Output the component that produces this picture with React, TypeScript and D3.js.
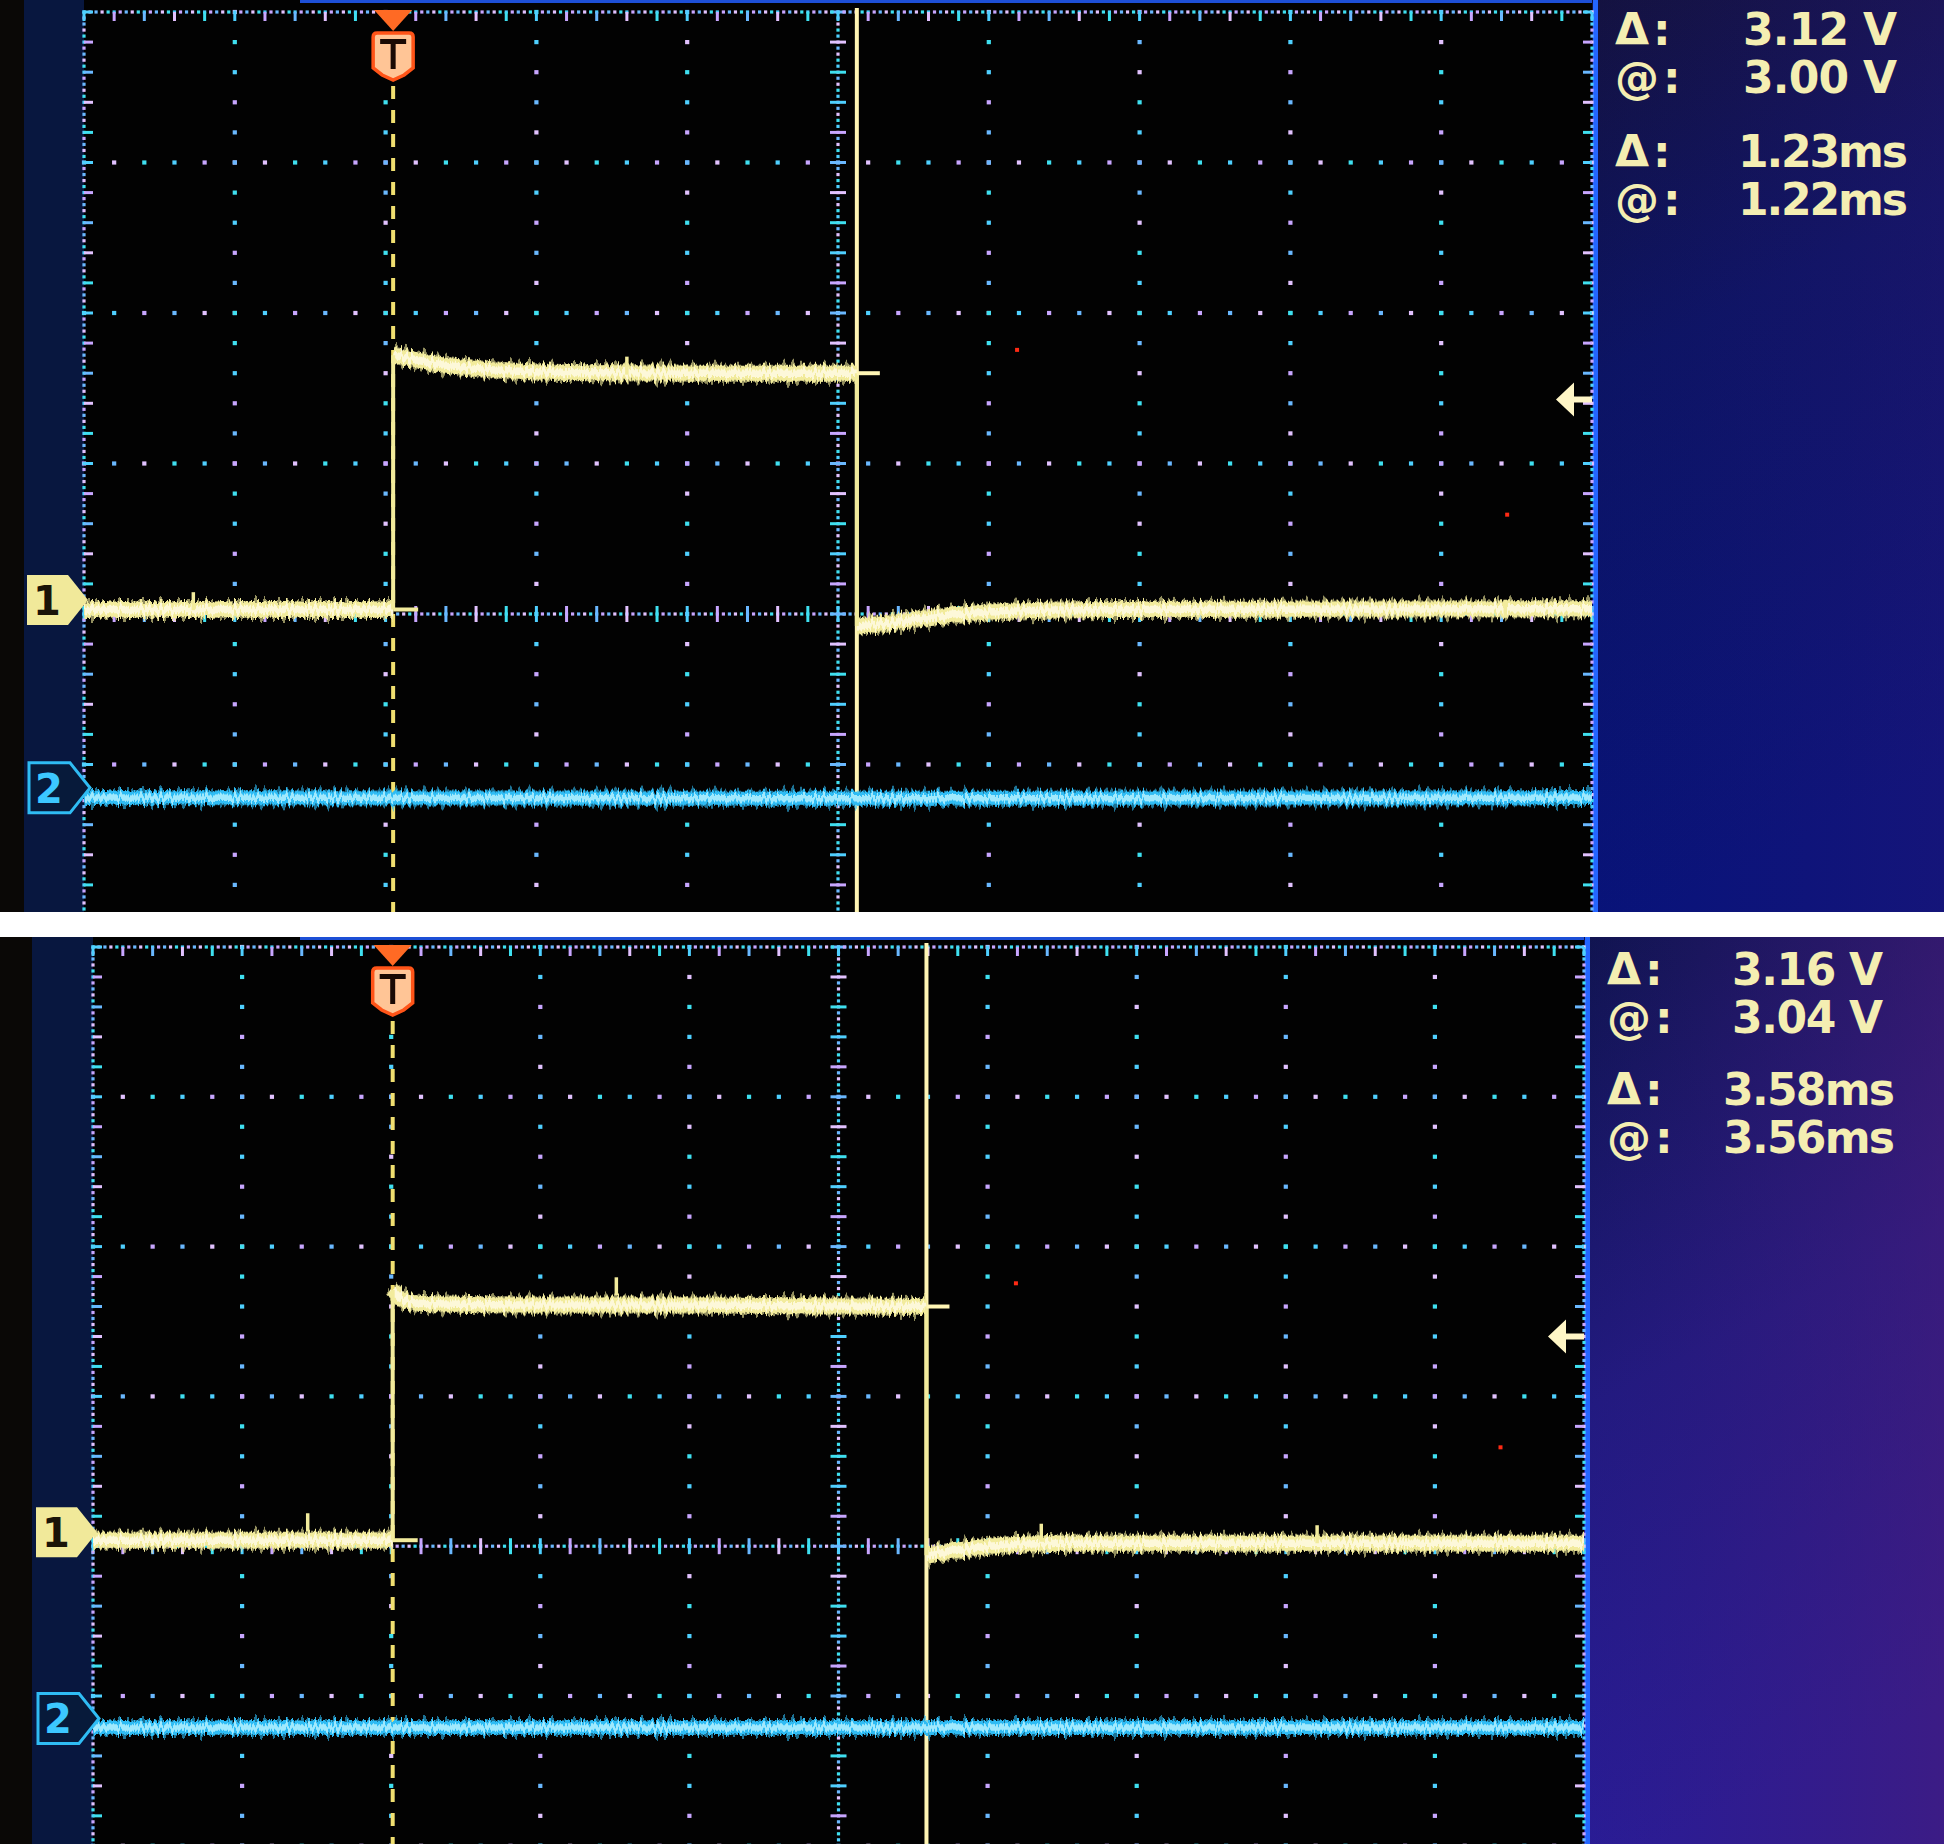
import { useEffect, useRef } from 'react'
import * as d3 from 'd3'

type Pt = [number, number]

const W = 1944
const H = 1844

// cursor readouts on the right of each screen
const readoutLabels = ['Δ:', '@:', 'Δ:', '@:']
const topReadings = ['3.12 V', '3.00 V', '1.23ms', '1.22ms']
const botReadings = ['3.16 V', '3.04 V', '3.58ms', '3.56ms']

// scope settings (top, bottom)
const msPerDiv = [0.4, 1.0]
const screenStart = [-0.82, -2.01] // ms at the left graticule edge
const voltsPerDiv = 2
const cursorAt = [1.23, 3.58] // ms
const triggerLevel = [2.85, 2.8] // V
const ch2Position = [-2.31, -2.3] // V, ch2 ground below ch1 ground

// channel 1 traces, [ms, V]
const topCh1: Pt[] = [
  [-0.82, 0.06], [0, 0.06], [0, 3.44], [0.04, 3.4], [0.12, 3.32], [0.25, 3.25],
  [0.45, 3.21], [0.8, 3.2], [1.23, 3.2], [1.23, -0.16], [1.3, -0.13],
  [1.4, -0.06], [1.6, 0.03], [1.9, 0.06], [3.18, 0.07],
]
const botCh1: Pt[] = [
  [-2.01, 0.08], [0, 0.08], [0, 3.42], [0.06, 3.3], [0.2, 3.24], [1.0, 3.22],
  [2.0, 3.22], [3.58, 3.2], [3.58, -0.12], [3.7, -0.08], [4.0, 0.0],
  [4.5, 0.04], [7.99, 0.04],
]
// channel 2 traces, [ms, V]
const topCh2: Pt[] = [[-0.82, -0.13], [1.0, -0.14], [3.18, -0.13]]
const botCh2: Pt[] = [[-2.01, -0.12], [3.0, -0.12], [7.99, -0.12]]

// the taller noise spikes on channel 1, [ms, peak V]
const topSpikes: Pt[] = [[-0.53, 0.29], [0.62, 3.42], [2.95, 0.19]]
const botSpikes: Pt[] = [[-0.57, 0.44], [1.5, 3.59], [4.35, 0.3], [6.2, 0.28]]

// red dead pixels, [ms, V]
const topDeadPx: Pt[] = [[1.655, 3.51], [2.955, 1.32]]
const botDeadPx: Pt[] = [[4.18, 3.51], [7.43, 1.32]]

const panels = [
  {
    y0: 0, y1: 912, gx0: 84, gx1: 1592, gTop: 12, dy: 150.5, bezel: 24,
    labelX: 1615, rows: [45, 93, 167, 215], valX: [1743, 1743, 1738, 1738], valW: [154, 154, 170, 170],
    ch1: topCh1, ch2: topCh2, spikes: topSpikes, dead: topDeadPx, readings: topReadings,
    side: 'url(#sideTop)', purple: 0.35,
  },
  {
    y0: 937, y1: 1844, gx0: 93, gx1: 1584, gTop: 947, dy: 149.8, bezel: 32,
    labelX: 1607, rows: [985, 1033, 1105, 1153], valX: [1732, 1732, 1723, 1723], valW: [151, 151, 172, 172],
    ch1: botCh1, ch2: botCh2, spikes: botSpikes, dead: botDeadPx, readings: botReadings,
    side: 'url(#sideBot)', purple: 1,
  },
]

const dotColors = ['#4fd0ff', '#c8a6ff', '#6ab8ff', '#e2c2ff', '#3fe0f0']
const YEL = '#f2eb9c'
const YEL_CORE = '#fffbe4'
const CYAN = '#2fbcf4'
const CYAN_CORE = '#b4f2ff'

function splitAtJumps(pts: Pt[]) {
  const segs: Pt[][] = [[pts[0]]]
  const jumps: [Pt, Pt][] = []
  for (let i = 1; i < pts.length; i++) {
    if (pts[i][0] === pts[i - 1][0]) {
      jumps.push([pts[i - 1], pts[i]])
      segs.push([pts[i]])
    } else {
      segs[segs.length - 1].push(pts[i])
    }
  }
  return { segs, jumps }
}

export default function App() {
  const ref = useRef<SVGSVGElement>(null)

  useEffect(() => {
    if (!ref.current) return
    const svg = d3.select(ref.current)
    svg.selectAll('*').remove()

    const defs = svg.append('defs')

    // jitter filters give the traces their noisy edges
    const jitters = [
      { id: 'jA', seed: 2, f: 0.22, s: 22 },
      { id: 'jB', seed: 7, f: 0.35, s: 16 },
      { id: 'jC', seed: 13, f: 0.55, s: 12 },
    ]
    jitters.forEach(j => {
      const f = defs.append('filter').attr('id', j.id)
        .attr('filterUnits', 'userSpaceOnUse')
        .attr('x', 0).attr('y', 0).attr('width', W).attr('height', H)
        .attr('color-interpolation-filters', 'sRGB')
      f.append('feTurbulence').attr('type', 'fractalNoise')
        .attr('baseFrequency', `${j.f} 0`).attr('numOctaves', 2).attr('seed', j.seed).attr('result', 'n')
      f.append('feColorMatrix').attr('in', 'n').attr('type', 'matrix')
        .attr('values', '0 0 0 0 0.5  0 1 0 0 0  0 0 0 0 0  0 0 0 0 1').attr('result', 'm')
      f.append('feDisplacementMap').attr('in', 'SourceGraphic').attr('in2', 'm')
        .attr('scale', j.s).attr('xChannelSelector', 'R').attr('yChannelSelector', 'G')
    })

    // side panel gradients
    const gTopSide = defs.append('linearGradient').attr('id', 'sideTop')
      .attr('x1', 0).attr('y1', 0).attr('x2', 0.2).attr('y2', 1)
    gTopSide.append('stop').attr('offset', 0).attr('stop-color', '#141240')
    gTopSide.append('stop').attr('offset', 0.4).attr('stop-color', '#0c1464')
    gTopSide.append('stop').attr('offset', 1).attr('stop-color', '#08137a')
    const gBotSide = defs.append('linearGradient').attr('id', 'sideBot')
      .attr('x1', 0).attr('y1', 0).attr('x2', 0.2).attr('y2', 1)
    gBotSide.append('stop').attr('offset', 0).attr('stop-color', '#101450')
    gBotSide.append('stop').attr('offset', 0.5).attr('stop-color', '#221a80')
    gBotSide.append('stop').attr('offset', 1).attr('stop-color', '#2a1c96')
    const gPurple = defs.append('linearGradient').attr('id', 'sidePurple')
      .attr('x1', 0).attr('y1', 0).attr('x2', 1).attr('y2', 0)
    gPurple.append('stop').attr('offset', 0).attr('stop-color', '#3a1a7a').attr('stop-opacity', 0)
    gPurple.append('stop').attr('offset', 1).attr('stop-color', '#4a1c78').attr('stop-opacity', 0.55)

    svg.append('rect').attr('width', W).attr('height', H).attr('fill', '#ffffff')

    panels.forEach((p, pi) => {
      const clipId = `clip${pi}`
      defs.append('clipPath').attr('id', clipId)
        .append('rect').attr('x', 0).attr('y', p.y0).attr('width', W).attr('height', p.y1 - p.y0)
      const g = svg.append('g').attr('clip-path', `url(#${clipId})`)
      const ph = p.y1 - p.y0

      // bezel, screen, side panel
      g.append('rect').attr('x', 0).attr('y', p.y0).attr('width', p.gx0).attr('height', ph).attr('fill', '#0a0806')
      g.append('rect').attr('x', p.bezel).attr('y', p.y0).attr('width', p.gx0 - p.bezel).attr('height', ph).attr('fill', '#08173f')
      g.append('rect').attr('x', p.gx0).attr('y', p.y0).attr('width', p.gx1 - p.gx0).attr('height', ph).attr('fill', '#020202')
      g.append('rect').attr('x', p.gx1).attr('y', p.y0).attr('width', W - p.gx1).attr('height', ph)
        .attr('fill', p.side)
      g.append('rect').attr('x', p.gx1).attr('y', p.y0).attr('width', W - p.gx1).attr('height', ph)
        .attr('fill', 'url(#sidePurple)').attr('opacity', p.purple)
      g.append('rect').attr('x', p.gx1 + 1).attr('y', p.y0).attr('width', 5).attr('height', ph).attr('fill', '#2466ff')
      g.append('rect').attr('x', 300).attr('y', p.y0).attr('width', p.gx1 - 300).attr('height', 3).attr('fill', '#1d4fd6')

      // scales
      const xd = d3.scaleLinear().domain([0, 10]).range([p.gx0, p.gx1])
      const yd = d3.scaleLinear().domain([0, 8]).range([p.gTop, p.gTop + 8 * p.dy])
      const t0 = screenStart[pi]
      const x = d3.scaleLinear().domain([t0, t0 + 10 * msPerDiv[pi]]).range([p.gx0, p.gx1])
      const y = d3.scaleLinear().domain([-4 * voltsPerDiv, 4 * voltsPerDiv]).range([p.gTop + 8 * p.dy, p.gTop])
      const y2 = (v: number) => y(v + ch2Position[pi])

      // graticule
      const grid = g.append('g')
      const dot = (cx: number, cy: number, i: number, s = 4.2) =>
        grid.append('rect').attr('x', cx - s / 2).attr('y', cy - s / 2).attr('width', s).attr('height', s)
          .attr('fill', dotColors[i % dotColors.length])
      const minorX = d3.range(0, 10.0001, 0.2)
      const minorY = d3.range(0, 8.0001, 0.2)
      const denseX = d3.range(0, 10.0001, 0.04)
      const denseY = d3.range(0, 8.0001, 0.04)
      const tick = (x1: number, y1: number, x2: number, y2v: number, i: number) =>
        grid.append('line').attr('x1', x1).attr('y1', y1).attr('x2', x2).attr('y2', y2v)
          .attr('stroke', dotColors[i % dotColors.length]).attr('stroke-width', 3)

      d3.range(1, 10).filter(i => i !== 5).forEach(i =>
        minorY.forEach((v, k) => dot(xd(i), yd(v), i * 3 + k)))
      d3.range(1, 8).filter(j => j !== 4).forEach(j =>
        minorX.forEach((v, k) => dot(xd(v), yd(j), j * 2 + k)))
      // center axes
      denseX.forEach((v, k) => dot(xd(v), yd(4), k, 3.2))
      denseY.forEach((v, k) => dot(xd(5), yd(v), k + 1, 3.2))
      minorX.forEach((v, k) => tick(xd(v), yd(4) - 8, xd(v), yd(4) + 8, k))
      minorY.forEach((v, k) => tick(xd(5) - 8, yd(v), xd(5) + 8, yd(v), k + 2))
      // border
      denseX.forEach((v, k) => { dot(xd(v), yd(0), k, 3.2); dot(xd(v), yd(8), k + 2, 3.2) })
      denseY.forEach((v, k) => { dot(xd(0), yd(v), k, 3.2); dot(xd(10), yd(v), k + 3, 3.2) })
      minorX.forEach((v, k) => { tick(xd(v), yd(0), xd(v), yd(0) + 9, k); tick(xd(v), yd(8), xd(v), yd(8) - 9, k) })
      minorY.forEach((v, k) => { tick(xd(0), yd(v), xd(0) + 9, yd(v), k); tick(xd(10), yd(v), xd(10) - 9, yd(v), k) })

      // dead pixels
      g.selectAll(null).data(p.dead).join('rect')
        .attr('x', d => x(d[0]) - 2).attr('y', d => y(d[1]) - 2).attr('width', 4).attr('height', 4)
        .attr('fill', '#ff2a14')

      // trigger dashed line
      const tx = x(0)
      g.append('line').attr('x1', tx).attr('x2', tx).attr('y1', p.gTop + 74).attr('y2', p.y1)
        .attr('stroke', '#f0df70').attr('stroke-width', 4).attr('stroke-dasharray', '13 11')

      // cursor
      const cx = x(cursorAt[pi])
      g.append('line').attr('x1', cx).attr('x2', cx).attr('y1', p.gTop - 4).attr('y2', p.y1)
        .attr('stroke', '#fff5b4').attr('stroke-width', 4)

      // traces
      const line = d3.line<Pt>().x(d => x(d[0])).y(d => y(d[1])).curve(d3.curveMonotoneX)
      const line2 = d3.line<Pt>().x(d => x(d[0])).y(d => y2(d[1]))

      const drawTrace = (pts: Pt[], path: d3.Line<Pt>, yf: (v: number) => number,
        col: string, core: string, w: number) => {
        const { segs, jumps } = splitAtJumps(pts)
        const tg = g.append('g')
        segs.forEach(s => {
          tg.append('path').attr('d', path(s)).attr('fill', 'none').attr('stroke', col)
            .attr('stroke-width', w + 2).attr('opacity', 0.6).attr('filter', 'url(#jA)')
          tg.append('path').attr('d', path(s)).attr('fill', 'none').attr('stroke', col)
            .attr('stroke-width', w).attr('filter', 'url(#jB)')
          tg.append('path').attr('d', path(s)).attr('fill', 'none').attr('stroke', col)
            .attr('stroke-width', w - 2).attr('filter', 'url(#jC)')
          tg.append('path').attr('d', path(s)).attr('fill', 'none').attr('stroke', core)
            .attr('stroke-width', w / 2).attr('opacity', 0.85).attr('filter', 'url(#jB)')
        })
        jumps.forEach(([a, b]) => {
          tg.append('line').attr('x1', x(a[0])).attr('x2', x(b[0]))
            .attr('y1', yf(a[1])).attr('y2', yf(b[1]))
            .attr('stroke', col).attr('stroke-width', 4)
        })
      }
      drawTrace(p.ch2, line2, y2, CYAN, CYAN_CORE, 13)
      drawTrace(p.ch1, line, y, YEL, YEL_CORE, 15)

      // spikes
      g.selectAll(null).data(p.spikes).join('line')
        .attr('x1', d => x(d[0])).attr('x2', d => x(d[0]))
        .attr('y1', d => y(d[1])).attr('y2', d => y(d[1]) + 18)
        .attr('stroke', YEL).attr('stroke-width', 3.5)

      // small marks at trigger and cursor crossings
      g.append('line').attr('x1', tx).attr('x2', tx + 25).attr('y1', y(p.ch1[1][1])).attr('y2', y(p.ch1[1][1]))
        .attr('stroke', YEL).attr('stroke-width', 4)
      const hiIdx = p.ch1.findIndex((d, i) => i > 2 && d[0] === cursorAt[pi])
      const hiV = p.ch1[hiIdx][1]
      g.append('line').attr('x1', cx).attr('x2', cx + 23).attr('y1', y(hiV)).attr('y2', y(hiV))
        .attr('stroke', '#fff5b4').attr('stroke-width', 4)

      // trigger marker
      const gt = p.gTop
      g.append('path')
        .attr('d', `M${tx - 19},${gt - 2} L${tx + 19},${gt - 2} L${tx},${gt + 19} Z`)
        .attr('fill', '#ff6a24')
      g.append('path')
        .attr('d', `M${tx - 16},${gt + 21} H${tx + 16} Q${tx + 20},${gt + 21} ${tx + 20},${gt + 25} V${gt + 56} L${tx + 11},${gt + 63} L${tx},${gt + 68} L${tx - 11},${gt + 63} L${tx - 20},${gt + 56} V${gt + 25} Q${tx - 20},${gt + 21} ${tx - 16},${gt + 21} Z`)
        .attr('fill', '#ffc596').attr('stroke', '#ff5418').attr('stroke-width', 3.5)
      g.append('rect').attr('x', tx - 13).attr('y', gt + 27).attr('width', 26).attr('height', 5).attr('fill', '#1a0a04')
      g.append('rect').attr('x', tx - 2.5).attr('y', gt + 27).attr('width', 5).attr('height', 30).attr('fill', '#1a0a04')

      // trigger level arrow
      const ty = y(triggerLevel[pi])
      g.append('path')
        .attr('d', `M${p.gx1 - 36},${ty} L${p.gx1 - 18},${ty - 17} V${ty - 3} H${p.gx1} V${ty + 3} H${p.gx1 - 18} V${ty + 17} Z`)
        .attr('fill', '#fff6c6')

      // channel markers
      const marker = (tipX: number, tipY: number) =>
        `M${tipX - 61},${tipY - 25} H${tipX - 20} L${tipX},${tipY} L${tipX - 20},${tipY + 25} H${tipX - 61} Z`
      const c1y = y(0) - 14
      g.append('path').attr('d', marker(p.gx0 + 4, c1y)).attr('fill', '#f1e99a')
      g.append('text').attr('x', p.gx0 - 37).attr('y', c1y + 15).attr('text-anchor', 'middle')
        .attr('font-family', 'DejaVu Sans').attr('font-weight', 'bold').attr('font-size', 40)
        .attr('fill', '#1a1408').text('1')
      const c2y = y2(0)
      g.append('path').attr('d', marker(p.gx0 + 6, c2y)).attr('fill', '#071a3a')
        .attr('stroke', CYAN).attr('stroke-width', 3)
      g.append('text').attr('x', p.gx0 - 35).attr('y', c2y + 15).attr('text-anchor', 'middle')
        .attr('font-family', 'DejaVu Sans').attr('font-weight', 'bold').attr('font-size', 40)
        .attr('fill', '#3cc8ff').text('2')

      // readouts
      readoutLabels.forEach((lab, i) => {
        g.append('text').attr('x', p.labelX).attr('y', p.rows[i])
          .attr('font-family', 'DejaVu Sans').attr('font-weight', 'bold').attr('font-size', 44)
          .attr('letter-spacing', 4).attr('fill', '#f4eeb2').text(lab)
        g.append('text').attr('x', p.valX[i]).attr('y', p.rows[i])
          .attr('font-family', 'DejaVu Sans').attr('font-weight', 'bold').attr('font-size', 44)
          .attr('textLength', p.valW[i]).attr('lengthAdjust', 'spacing')
          .attr('fill', '#f4eeb2').text(p.readings[i])
      })
    })
  }, [])

  return (
    <svg ref={ref} width={W} height={H}
      style={{ position: 'absolute', left: 0, top: 0, display: 'block' }} />
  )
}
